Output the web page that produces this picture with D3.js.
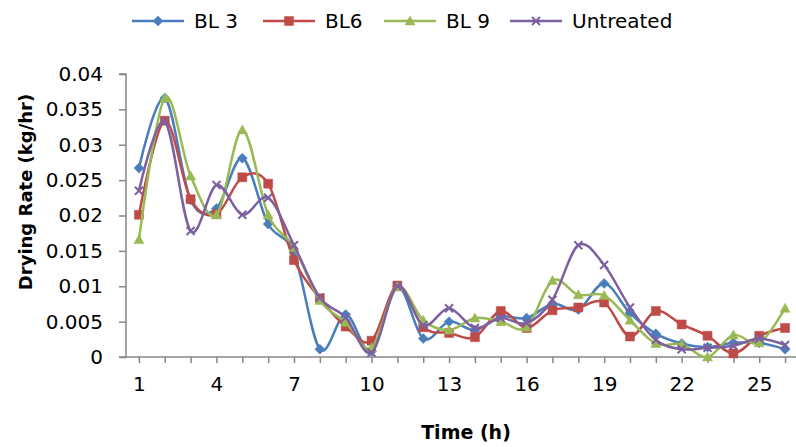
<!DOCTYPE html>
<html>
<head>
<meta charset="utf-8">
<script src="https://cdn.jsdelivr.net/npm/d3@7"></script>
<style>
  body { margin: 0; background: #fff; }
  text { font-family: "DejaVu Sans", sans-serif; }
</style>
</head>
<body>
<div id="chart"></div>
<script>
// data
const hours = [1,2,3,4,5,6,7,8,9,10,11,12,13,14,15,16,17,18,19,20,21,22,23,24,25,26];
const xLabelled = [1,4,7,10,13,16,19,22,25];
const yTicks = [0,0.005,0.01,0.015,0.02,0.025,0.03,0.035,0.04];
const yTickLabels = ["0","0.005","0.01","0.015","0.02","0.025","0.03","0.035","0.04"];

const bl3 = [0.0267,0.0366,0.0222,0.0210,0.0281,0.0188,0.0147,0.0011,0.0060,0.0008,0.0100,0.0026,0.0050,0.0038,0.0057,0.0055,0.0075,0.0067,0.0104,0.0062,0.0033,0.0019,0.0014,0.0020,0.0020,0.0011];
const bl6 = [0.0201,0.0334,0.0223,0.0202,0.0254,0.0245,0.0137,0.0083,0.0043,0.0023,0.0101,0.0042,0.0034,0.0028,0.0065,0.0041,0.0066,0.0070,0.0077,0.0029,0.0065,0.0046,0.0030,0.0005,0.0030,0.0041];
const bl9 = [0.0166,0.0366,0.0256,0.0201,0.0321,0.0201,0.0155,0.0080,0.0049,0.0013,0.0099,0.0052,0.0038,0.0055,0.0050,0.0042,0.0108,0.0088,0.0087,0.0052,0.0019,0.0018,0.0000,0.0031,0.0020,0.0069];
const untreated = [0.0235,0.0333,0.0178,0.0243,0.0201,0.0225,0.0158,0.0084,0.0056,0.0006,0.0100,0.0045,0.0069,0.0041,0.0055,0.0048,0.0081,0.0158,0.0130,0.0070,0.0024,0.0011,0.0013,0.0016,0.0026,0.0017];

const seriesNames = ["BL 3", "BL6", "BL 9", "Untreated"];

const width = 796, height = 447;
const plotLeft = 126, plotRight = 798, plotTop = 74, plotBottom = 357;

const colors = ["#4A7EBB", "#BE4B48", "#98B954", "#7D60A0"];
const markers = [
  "M0,-5L5,0L0,5L-5,0Z",
  "M-4.5,-4.5H4.5V4.5H-4.5Z",
  "M0,-5L5,4L-5,4Z",
  "M-4,-4L4,4M4,-4L-4,4"
];

const svg = d3.select("#chart").append("svg")
  .attr("width", width)
  .attr("height", height);

const x = d3.scalePoint()
  .domain(hours)
  .range([plotLeft, plotRight])
  .padding(0.5);

const y = d3.scaleLinear()
  .domain([0, 0.04])
  .range([plotBottom, plotTop]);

// y axis
const yAxis = svg.append("g")
  .attr("transform", "translate(" + plotLeft + ",0)")
  .call(d3.axisLeft(y).tickValues(yTicks).tickSize(7).tickPadding(16)
    .tickFormat((d, i) => yTickLabels[i]));
yAxis.select(".domain").attr("stroke", "#868686").attr("stroke-width", 1.5)
  .attr("d", "M-7," + plotTop + "H0V" + plotBottom + "H-7");
yAxis.selectAll(".tick line").attr("stroke", "#868686").attr("stroke-width", 1.5);
yAxis.selectAll(".tick text").attr("font-size", 20).attr("fill", "#000")
  .attr("font-family", "DejaVu Sans");

// x axis
const xAxis = svg.append("g")
  .attr("transform", "translate(0," + plotBottom + ")")
  .call(d3.axisBottom(x).tickSize(6).tickPadding(14)
    .tickFormat(d => xLabelled.includes(d) ? d : ""));
xAxis.select(".domain").attr("stroke", "#868686").attr("stroke-width", 1.5)
  .attr("d", "M" + plotLeft + ",0H" + plotRight);
xAxis.selectAll(".tick line").attr("stroke", "#868686").attr("stroke-width", 1.5);
xAxis.selectAll(".tick text").attr("font-size", 20).attr("fill", "#000")
  .attr("font-family", "DejaVu Sans");

// titles
svg.append("text")
  .attr("x", 466).attr("y", 439)
  .attr("text-anchor", "middle")
  .attr("font-size", 19).attr("font-weight", "bold")
  .text("Time (h)");

svg.append("text")
  .attr("transform", "translate(32,192) rotate(-90)")
  .attr("text-anchor", "middle")
  .attr("font-size", 18).attr("font-weight", "bold")
  .text("Drying Rate (kg/hr)");

// series
const line = d3.line()
  .x((d, i) => x(hours[i]))
  .y(d => y(d))
  .curve(d3.curveCardinal.tension(0));

[bl3, bl6, bl9, untreated].forEach((vals, k) => {
  const g = svg.append("g");
  g.append("path")
    .datum(vals)
    .attr("d", line)
    .attr("fill", "none")
    .attr("stroke", colors[k])
    .attr("stroke-width", 2.5);
  g.selectAll("path.m")
    .data(vals)
    .enter().append("path")
      .attr("class", "m")
      .attr("transform", (d, i) => "translate(" + x(hours[i]) + "," + y(d) + ")")
      .attr("d", markers[k])
      .attr("fill", k === 3 ? "none" : colors[k])
      .attr("stroke", colors[k])
      .attr("stroke-width", k === 3 ? 2 : 0.5);
});

// legend
const legendX = [132, 263, 384, 510];
const legend = svg.append("g");
seriesNames.forEach((name, k) => {
  const lg = legend.append("g").attr("transform", "translate(" + legendX[k] + ",21)");
  lg.append("line").attr("x1", 0).attr("x2", 52)
    .attr("stroke", colors[k]).attr("stroke-width", 2.5);
  lg.append("path").attr("transform", "translate(26,0)")
    .attr("d", markers[k])
    .attr("fill", k === 3 ? "none" : colors[k])
    .attr("stroke", colors[k])
    .attr("stroke-width", k === 3 ? 2 : 0.5);
  lg.append("text").attr("x", 62).attr("y", 7)
    .attr("font-size", 20).attr("fill", "#000")
    .text(name);
});
</script>
</body>
</html>
